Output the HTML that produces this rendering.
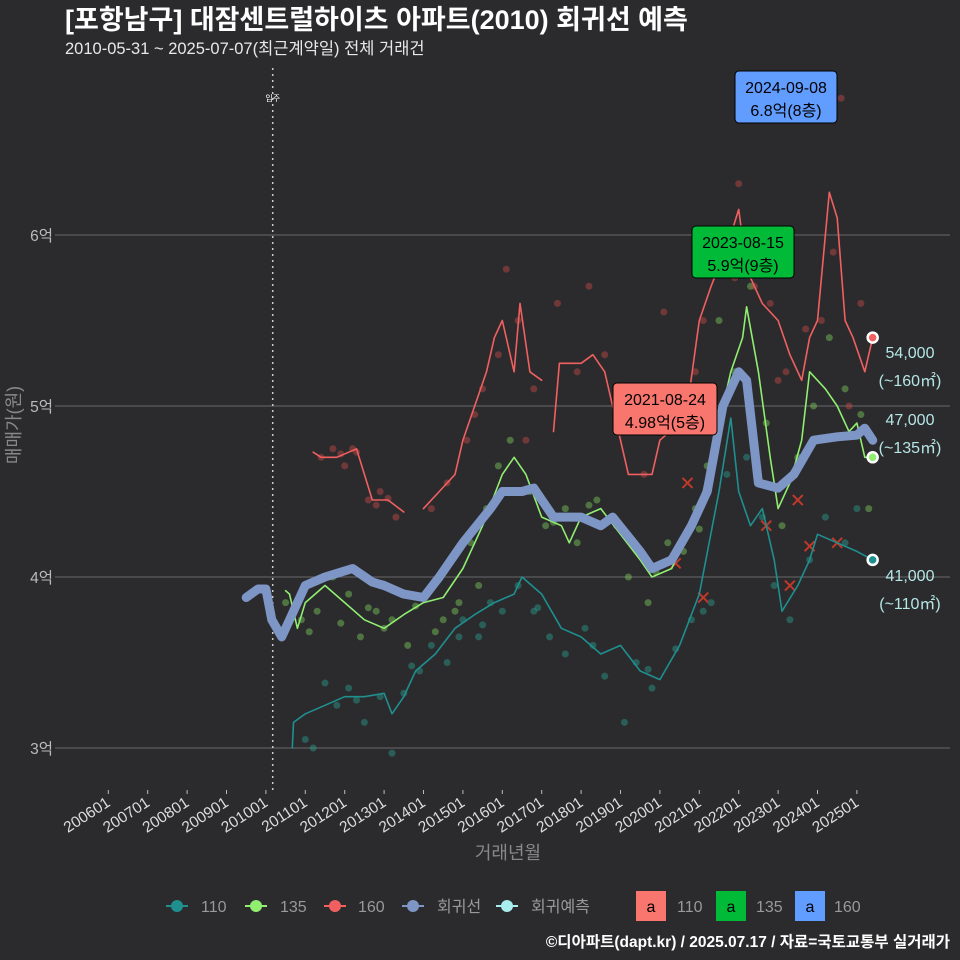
<!DOCTYPE html>
<html><head><meta charset="utf-8">
<style>
body{margin:0;background:#2b2b2d;}
svg{display:block;font-family:"Liberation Sans","Noto Sans CJK KR",sans-serif;}
</style></head>
<body>
<svg id="chart" width="960" height="960" viewBox="0 0 960 960">
<rect width="960" height="960" fill="#2b2b2d"/>
<text x="65" y="29" fill="#ffffff" font-size="27" font-weight="bold">[포항남구] 대잠센트럴하이츠 아파트(2010) 회귀선 예측</text>
<text x="65" y="54" fill="#e8e8e8" font-size="16.5">2010-05-31 ~ 2025-07-07(최근계약일) 전체 거래건</text>
<g id="grid"></g>
<g id="axes"></g>
<g id="marks"></g>
<g id="annot"></g>
<text transform="translate(20,425) rotate(-90)" text-anchor="middle" fill="#888" font-size="18">매매가(원)</text>
<text x="508" y="859" text-anchor="middle" fill="#888" font-size="18">거래년월</text>
<g id="legend" font-size="16" fill="#999">
  <g><line x1="166" x2="188" y1="906" y2="906" stroke="#1f8f8f" stroke-width="2"/><circle cx="177" cy="906" r="6" fill="#1f8f8f"/><text x="201" y="912">110</text></g>
  <g><line x1="245" x2="267" y1="906" y2="906" stroke="#90ee70" stroke-width="2"/><circle cx="256" cy="906" r="6" fill="#90ee70"/><text x="280" y="912">135</text></g>
  <g><line x1="324" x2="346" y1="906" y2="906" stroke="#f06060" stroke-width="2"/><circle cx="335" cy="906" r="6" fill="#f06060"/><text x="358" y="912">160</text></g>
  <g><line x1="402" x2="424" y1="906" y2="906" stroke="#7d96c6" stroke-width="2"/><circle cx="413" cy="906" r="6" fill="#7d96c6"/><text x="437" y="912">회귀선</text></g>
  <g><line x1="496" x2="518" y1="906" y2="906" stroke="#a8eeee" stroke-width="2"/><circle cx="507" cy="906" r="6" fill="#a8eeee"/><text x="531" y="912">회귀예측</text></g>
  <g><rect x="636" y="891" width="30" height="30" fill="#f8766d"/><text x="651" y="912" text-anchor="middle" fill="#000">a</text><text x="677" y="912">110</text></g>
  <g><rect x="716" y="891" width="30" height="30" fill="#00ba38"/><text x="731" y="912" text-anchor="middle" fill="#000">a</text><text x="756" y="912">135</text></g>
  <g><rect x="795" y="891" width="30" height="30" fill="#619cff"/><text x="810" y="912" text-anchor="middle" fill="#000">a</text><text x="834" y="912">160</text></g>
</g>
<text x="950" y="947" text-anchor="end" fill="#fff" font-size="15.5" font-weight="bold">©디아파트(dapt.kr) / 2025.07.17 / 자료=국토교통부 실거래가</text>
</svg>
<script>
const yTicks=[30000,40000,50000,60000];
const yTickLabels=["3억","4억","5억","6억"];
const xTickYears=[2006,2007,2008,2009,2010,2011,2012,2013,2014,2015,2016,2017,2018,2019,2020,2021,2022,2023,2024,2025];
const xTickLabels=["200601","200701","200801","200901","201001","201101","201201","201301","201401","201501","201601","201701","201801","201901","202001","202101","202201","202301","202401","202501"];
const regT=[2009.5,2009.8,2010.0,2010.15,2010.4,2010.7,2011.0,2011.5,2012.2,2012.7,2013.0,2013.5,2014.0,2014.4,2015.0,2015.7,2016.0,2016.5,2016.8,2017.3,2018.0,2018.5,2018.8,2019.5,2019.8,2020.3,2020.8,2021.2,2021.6,2022.0,2022.2,2022.5,2023.0,2023.4,2023.9,2024.5,2025.0,2025.2,2025.4];
const regV=[38800,39300,39300,37500,36500,38000,39500,40000,40500,39700,39500,39000,38800,40000,42000,44000,45000,45000,45200,43500,43500,43000,43500,41500,40500,41000,43000,45000,50000,52000,51500,45500,45200,46000,48000,48200,48300,48700,48000];
const t160=[2011.2,2011.4,2011.8,2012.3,2012.5,2012.7,2013.1,2013.5,null,2014.0,2014.4,2014.8,2015.0,2015.3,2015.6,2015.8,2016.0,2016.3,2016.45,2016.7,2017.0,null,2017.3,2017.45,2018.0,2018.3,2018.6,2018.8,2019.0,2019.2,2019.8,2020.0,2020.5,2020.7,2021.0,2021.3,2021.8,2022.0,2022.2,2022.6,2023.0,2023.3,2023.6,2023.8,2024.0,2024.3,2024.5,2024.7,2024.9,2025.2,2025.4];
const v160=[47300,47000,47000,47500,46000,44500,44500,43800,null,44000,45000,46000,48000,50000,52000,54000,55000,52000,56000,52000,51500,null,48500,52500,52500,53000,52000,50000,48000,46000,46000,48000,49000,50000,55000,57000,60000,61500,58000,56000,55000,53000,51500,54000,55000,62500,61000,55000,54000,52000,54000];
const t135=[2010.5,2010.6,2010.8,2011.0,2011.5,2012.0,2012.5,2013.0,2013.5,2014.0,2014.5,2015.0,2015.5,2016.0,2016.3,2016.6,2017.0,2017.5,2017.7,2018.0,2018.5,2019.0,2019.5,2019.8,2020.3,2020.8,2021.0,2021.4,2021.8,2022.1,2022.2,2022.5,2022.8,2023.0,2023.3,2023.6,2023.8,2024.2,2024.5,2024.8,2025.0,2025.2,2025.4];
const v135=[39200,39000,37000,38500,39500,38500,37500,37000,37800,38500,38800,40500,43000,46000,47000,46000,43500,43000,42000,43500,44000,42500,41000,40000,40500,43000,44000,48000,52000,54000,55800,52000,47000,44000,45500,48000,52000,51000,50000,48500,49000,47000,47000];
const t110=[2010.67,2010.7,2011.0,2011.5,2012.0,2012.5,2013.0,2013.2,2013.5,2013.8,2014.3,2014.8,2015.3,2015.8,2016.3,2016.5,2017.0,2017.5,2018.0,2018.5,2019.0,2019.5,2020.0,2020.5,2021.0,2021.5,2021.8,2022.0,2022.3,2022.6,2022.9,2023.1,2023.5,2023.8,2024.0,2024.5,2025.0,2025.4];
const v110=[30000,31500,32000,32500,33000,33000,33200,32000,33000,34500,35500,37000,37800,38500,39000,40000,39000,37000,36500,35500,36000,34500,34000,36000,39000,45000,49300,45000,43000,44000,41000,38000,39500,41000,42500,42000,41500,41000];
const s160t=[2011.4,2011.7,2012.0,2012.2,2012.6,2012.9,2013.3,2014.2,2014.6,2015.1,2015.5,2015.9,2016.1,2016.4,2016.8,2017.4,2017.9,2018.2,2018.6,2019.3,2019.6,2020.1,2020.6,2021.1,2021.6,2022.0,2022.4,2022.8,2023.2,2023.7,2024.1,2024.4,2024.6,2025.1,2011.9,2012.3,2012.8,2013.1,2015.3,2016.6,2018.9,2020.9,2021.9,2023.0,2024.8];
const s160v=[47000,47500,46500,47500,44500,45000,43500,44000,45500,48000,51000,53000,58000,55000,51000,56000,52000,57000,53000,50000,46000,55500,49000,55000,60000,63000,57000,56000,52000,54500,55000,59000,68000,56000,47200,47300,44200,44600,49500,48000,51000,52000,57500,51500,50000];
const s135t=[2010.5,2010.9,2011.3,2011.7,2012.1,2012.4,2012.8,2013.2,2013.6,2014.1,2014.5,2014.9,2015.2,2015.6,2015.9,2016.2,2016.7,2017.1,2017.6,2017.9,2018.4,2018.9,2019.2,2019.7,2020.2,2020.6,2020.9,2021.2,2021.5,2021.9,2022.3,2022.7,2023.1,2023.5,2023.9,2024.3,2024.7,2025.1,2025.3,2011.1,2011.9,2012.6,2013.0,2013.8,2014.3,2014.8,2015.4,2017.3,2018.2,2019.9,2021.0];
const s135v=[38500,37500,38000,40000,39000,36500,38000,37500,36000,39000,37500,38500,42000,44000,46500,48000,45000,43000,44000,42000,44500,43000,40000,38500,42000,41500,44000,46500,55000,52000,57000,49000,43000,47000,50000,54000,51000,49500,44000,36800,37300,38200,37000,38300,36800,38000,39500,43200,44200,40300,42800];
const s110t=[2011.2,2011.5,2011.8,2012.1,2012.5,2012.9,2013.2,2013.5,2013.9,2014.2,2014.6,2015.0,2015.4,2015.7,2016.0,2016.4,2016.8,2017.2,2017.6,2018.1,2018.6,2019.1,2019.4,2019.8,2020.4,2020.8,2021.3,2021.7,2022.2,2022.6,2022.9,2023.3,2023.8,2024.2,2024.7,2025.0,2011.0,2012.3,2013.7,2014.9,2015.5,2016.9,2018.3,2019.7,2021.1];
const s110v=[30000,33800,32500,33500,31500,33000,29700,33200,34500,36000,35000,37500,36500,38500,38000,39500,38000,36500,35500,37000,34200,31500,35000,33500,35800,37500,38500,46000,47000,43500,39500,37500,41000,43500,42000,44000,30500,32800,34800,36500,37200,38200,36000,34600,38000];
const xMarkT=[2020.4,2020.7,2021.1,2022.7,2023.3,2023.5,2023.8,2024.5];
const xMarkV=[40800,45500,38800,43000,39500,44500,41800,42000];

const NS="http://www.w3.org/2000/svg";
const xS=t=>108.3+(t-2006)*39.4;
const yS=v=>748-(v-30000)*0.0171;
function mk(tag,attrs,parent){const e=document.createElementNS(NS,tag);for(const k in attrs)e.setAttribute(k,attrs[k]);parent.appendChild(e);return e;}
const grid=document.getElementById('grid'),axes=document.getElementById('axes'),marks=document.getElementById('marks'),annot=document.getElementById('annot');

yTicks.forEach((v,i)=>{
  const l=mk('line',{x1:55,x2:950,y1:yS(v),y2:yS(v),stroke:'#6a6a6a','stroke-width':1},grid);
  
  
  const t=mk('text',{x:53,y:yS(v)+6,'text-anchor':'end',fill:'#bbb','font-size':15.5},axes);
  t.textContent=yTickLabels[i];
  
  
});
xTickYears.forEach((yr,i)=>{
  const x=xS(yr);
  mk('line',{x1:x,x2:x,y1:790,y2:794,stroke:'#bbb'},axes);
  const t=mk('text',{transform:`translate(${x+3},${805}) rotate(-33)`,'text-anchor':'end',fill:'#ddd','font-size':15.5},axes);
  t.textContent=xTickLabels[i];
  
  
});
const mv=mk('line',{x1:272.7,x2:272.7,y1:68,y2:790,stroke:'#ccc','stroke-dasharray':'2,4','stroke-width':1.5},grid);


const mvt=mk('text',{x:272.7,y:101,'text-anchor':'middle',fill:'#fff','font-size':8},grid);
mvt.textContent='입주';



function scatter(ts,vs,col,name){
  ts.forEach((t,i)=>{
    const c=mk('circle',{cx:xS(t),cy:yS(vs[i]),r:3.5,fill:col,'fill-opacity':0.45},marks);
    
    
  });
}
scatter(s110t,s110v,'#2a9d8f','point-110');
scatter(s135t,s135v,'#7ccd5a','point-135');
scatter(s160t,s160v,'#c84a4a','point-160');

xMarkT.forEach((t,i)=>{
  const x=xS(t),y=yS(xMarkV[i]);
  const p=mk('path',{d:`M${x-5},${y-5}L${x+5},${y+5}M${x-5},${y+5}L${x+5},${y-5}`,stroke:'#c0392b','stroke-width':2},marks);
  
  
});

function line(ts,vs,col,w,name){
  let d='',start=true;
  ts.forEach((t,i)=>{
    if(t===null){start=true;return;}
    d+=(start?'M':'L')+xS(t).toFixed(1)+','+yS(vs[i]).toFixed(1);start=false;
  });
  const p=mk('path',{d:d,fill:'none',stroke:col,'stroke-width':w,'stroke-linejoin':'round','stroke-linecap':'round'},marks);
  
  
}
line(t110,v110,'#1f8f8f',1.6,'line-110');
line(t160,v160,'#f06060',1.6,'line-160');
line(t135,v135,'#90ee70',1.6,'line-135');
line(regT,regV,'#7d96c6',9,'regression-line');

function endDot(ts,vs,col,name){
  const n=ts.length-1;
  const c=mk('circle',{cx:xS(ts[n]),cy:yS(vs[n]),r:5,fill:col,stroke:'#fff','stroke-width':2.5},marks);
  
  
}
endDot(t160,v160,'#f06060','end-point-160');
endDot(t135,v135,'#90ee70','end-point-135');
endDot(t110,v110,'#1f8f8f','end-point-110');

function box(cx,y,w,l1,l2,fill,name){
  const g=mk('g',{},annot);
  
  
  mk('rect',{x:cx-w/2,y:y,width:w,height:52,rx:4,fill:fill,stroke:'#000','stroke-width':1},g);
  const a=mk('text',{x:cx,y:y+22,'text-anchor':'middle',fill:'#000','font-size':16},g);a.textContent=l1;
  const b=mk('text',{x:cx,y:y+45,'text-anchor':'middle',fill:'#000','font-size':16},g);b.textContent=l2;
}
box(665,383,104,'2021-08-24','4.98억(5층)','#f8766d','annotation-160-max');
box(743,226,102,'2023-08-15','5.9억(9층)','#00ba38','annotation-135-max');
box(786,71,102,'2024-09-08','6.8억(8층)','#619cff','annotation-160-latest');

function rlab(y,l1,l2,name){
  const a=mk('text',{x:910,y:y,'text-anchor':'middle',fill:'#b4e6e6','font-size':16},annot);a.textContent=l1;
  
  
  const b=mk('text',{x:910,y:y+28,'text-anchor':'middle',fill:'#b4e6e6','font-size':16},annot);b.textContent=l2;
  
  
}
rlab(358,'54,000','(~160㎡)','forecast-160');
rlab(425,'47,000','(~135㎡)','forecast-135');
rlab(581,'41,000','(~110㎡)','forecast-110');
</script>
</body></html>
